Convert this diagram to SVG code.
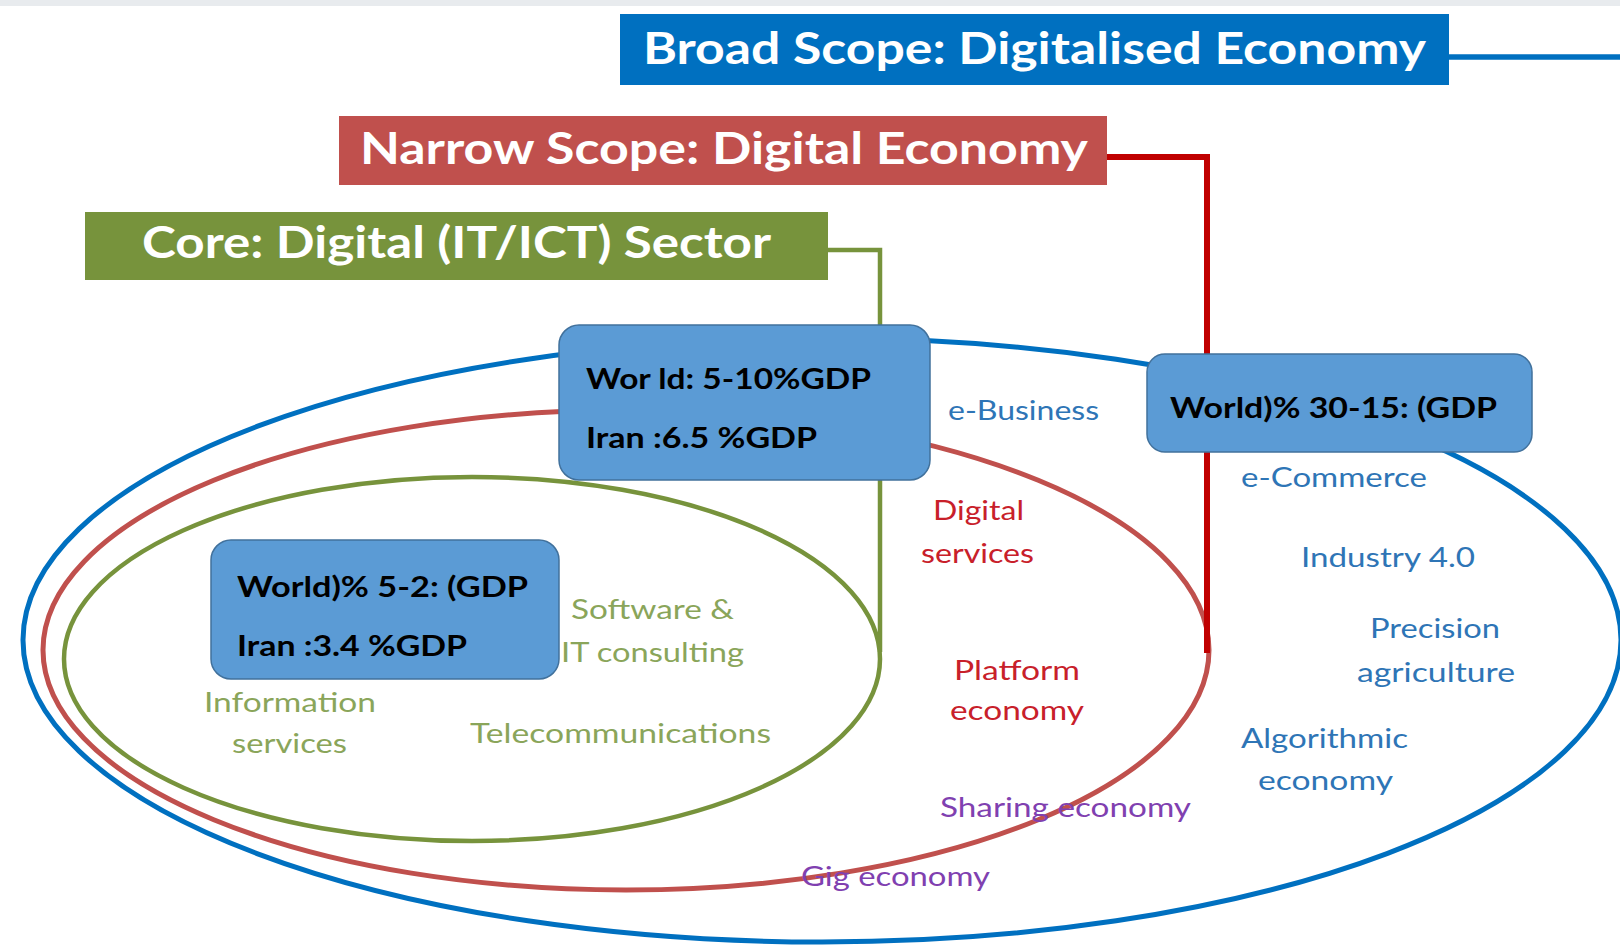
<svg xmlns="http://www.w3.org/2000/svg" width="1620" height="947" viewBox="0 0 1620 947">
<style>
.title{font-family:Lato,"Open Sans","Liberation Sans",sans-serif;font-weight:bold;fill:#ffffff;font-size:43px}
.box{fill:#5B9BD5;stroke:#41719C;stroke-width:1.5}
.bt{font-family:Lato,"Open Sans","Liberation Sans",sans-serif;font-weight:bold;fill:#000000;font-size:29px}
.lb{font-family:Lato,"Open Sans","Liberation Sans",sans-serif;font-size:27px}
.blue{fill:#2E75B6}.red{fill:#C8202A}.pur{fill:#8040B0}.grn{fill:#8AA55A}
.ell{fill:none}
</style>
<rect x="0" y="0" width="1620" height="947" fill="#ffffff"/>
<rect x="0" y="0" width="1620" height="6" fill="#e8ebee"/>
<g id="scopes">
<ellipse class="ell" cx="822" cy="640" rx="799" ry="302" stroke="#0070C0" stroke-width="5"/>
<ellipse class="ell" cx="626" cy="650" rx="583" ry="240" stroke="#C0504D" stroke-width="5"/>
<ellipse class="ell" cx="472" cy="659" rx="408" ry="182" stroke="#77933C" stroke-width="4.5"/>
</g>
<g id="connectors" fill="none">
<polyline points="1449,57 1620,57" stroke="#0070C0" stroke-width="5.5"/>
<polyline points="1107,157 1207,157 1207,653" stroke="#C00000" stroke-width="6"/>
<polyline points="828,250 880,250 880,652" stroke="#77933C" stroke-width="4.5"/>
</g>
<g id="broad">
<rect x="620" y="14" width="829" height="71" fill="#0070C0"/>
<text class="title" x="643" y="64" textLength="783" lengthAdjust="spacingAndGlyphs">Broad Scope: Digitalised Economy</text>
</g>
<g id="narrow">
<rect x="339" y="116" width="768" height="69" fill="#C0504D"/>
<text class="title" x="360" y="164" textLength="728" lengthAdjust="spacingAndGlyphs">Narrow Scope: Digital Economy</text>
</g>
<g id="core">
<rect x="85" y="212" width="743" height="68" fill="#77933C"/>
<text class="title" x="142" y="258" textLength="629" lengthAdjust="spacingAndGlyphs">Core: Digital (IT/ICT) Sector</text>
</g>
<g id="box-narrow">
<rect class="box" x="559" y="325" width="371" height="155" rx="20"/>
<text class="bt" x="586" y="389" textLength="285" lengthAdjust="spacingAndGlyphs">Wor ld: 5-10%GDP</text>
<text class="bt" x="586" y="448" textLength="231" lengthAdjust="spacingAndGlyphs">Iran :6.5 %GDP</text>
</g>
<g id="box-broad">
<rect class="box" x="1147" y="354" width="385" height="98" rx="18"/>
<text class="bt" x="1170" y="418" textLength="327" lengthAdjust="spacingAndGlyphs">World)%  30-15: (GDP</text>
</g>
<g id="box-core">
<rect class="box" x="211" y="540" width="348" height="139" rx="20"/>
<text class="bt" x="237" y="597" textLength="291" lengthAdjust="spacingAndGlyphs">World)% 5-2: (GDP</text>
<text class="bt" x="237" y="656" textLength="230" lengthAdjust="spacingAndGlyphs">Iran :3.4 %GDP</text>
</g>
<g id="labels-broad" class="lb blue">
<text x="948" y="420" textLength="151" lengthAdjust="spacingAndGlyphs">e-Business</text>
<text x="1241" y="487" textLength="186" lengthAdjust="spacingAndGlyphs">e-Commerce</text>
<text x="1301" y="567" textLength="174" lengthAdjust="spacingAndGlyphs">Industry 4.0</text>
<text x="1370" y="638" textLength="130" lengthAdjust="spacingAndGlyphs">Precision</text>
<text x="1357" y="682" textLength="158" lengthAdjust="spacingAndGlyphs">agriculture</text>
<text x="1241" y="748" textLength="167" lengthAdjust="spacingAndGlyphs">Algorithmic</text>
<text x="1258" y="790" textLength="135" lengthAdjust="spacingAndGlyphs">economy</text>
</g>
<g id="labels-narrow" class="lb red">
<text x="933" y="520" textLength="91" lengthAdjust="spacingAndGlyphs">Digital</text>
<text x="921" y="563" textLength="113" lengthAdjust="spacingAndGlyphs">services</text>
<text x="954" y="680" textLength="126" lengthAdjust="spacingAndGlyphs">Platform</text>
<text x="950" y="720" textLength="134" lengthAdjust="spacingAndGlyphs">economy</text>
</g>
<g id="labels-sharing" class="lb pur">
<text x="940" y="817" textLength="251" lengthAdjust="spacingAndGlyphs">Sharing economy</text>
<text x="801" y="886" textLength="189" lengthAdjust="spacingAndGlyphs">Gig economy</text>
</g>
<g id="labels-core" class="lb grn">
<text x="571" y="619" textLength="163" lengthAdjust="spacingAndGlyphs">Software &amp;</text>
<text x="561" y="662" textLength="183" lengthAdjust="spacingAndGlyphs">IT consulting</text>
<text x="204" y="712" textLength="172" lengthAdjust="spacingAndGlyphs">Information</text>
<text x="232" y="753" textLength="115" lengthAdjust="spacingAndGlyphs">services</text>
<text x="470" y="743" textLength="301" lengthAdjust="spacingAndGlyphs">Telecommunications</text>
</g>
</svg>
